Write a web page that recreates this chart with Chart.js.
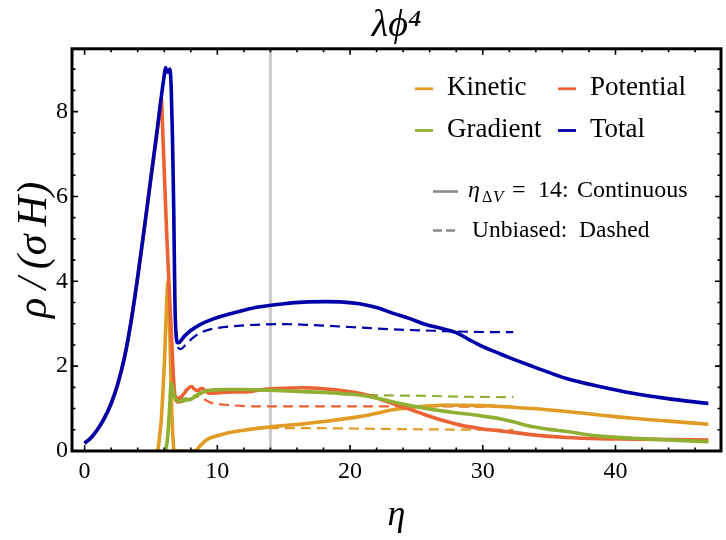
<!DOCTYPE html>
<html>
<head>
<meta charset="utf-8">
<script src="https://cdn.jsdelivr.net/npm/chart.js@4/dist/chart.umd.min.js"></script>
<style>
html,body{margin:0;padding:0;background:#ffffff;}
#wrap{width:726px;height:540px;position:relative;}
</style>
</head>
<body>
<div id="wrap"><canvas id="c" width="726" height="540"></canvas></div>
<script>
// ---------------- data ----------------
const chartTitle = 'λϕ⁴';
const xAxisTitle = 'η';
const yAxisTitle = 'ρ\u2009/\u2009(σ\u2009H)';
const xTickValues = [0, 10, 20, 30, 40];
const yTickValues = [0, 2, 4, 6, 8];
const xMinorStep = 2;
const yMinorStep = 0.5;
const xRange = [-0.95, 47.95];
const yRange = [0, 9.48];
const etaDeltaV = 14;
const seriesNames = ['Kinetic', 'Potential', 'Gradient', 'Total'];
const seriesColors = ['#E09C24', '#EB6235', '#8FB032', '#0000AA'];
const legendNoteSolid = 'Continuous';
const legendNoteDashed = 'Unbiased:  Dashed';

// Total, eta_DeltaV = 14 (continuous)
const totalEta = [0, 0.5, 1, 1.5, 2, 2.5, 3, 3.5, 4, 4.5, 5, 5.5, 5.8, 6.0, 6.1, 6.2, 6.3, 6.42, 6.52, 6.62, 6.72, 6.8, 6.9, 7.03, 7.15, 7.5, 8.0, 8.7, 9.5, 10.7, 12, 13.2, 15, 16.5, 18.2, 19.5, 20.7, 22, 23.2, 24.5, 25.7, 27, 28, 29, 30, 31, 32, 33.8, 36.3, 38.8, 41.3, 43.8, 47];
const totalRho = [0.18, 0.32, 0.52, 0.78, 1.12, 1.58, 2.2, 3.05, 4.1, 5.25, 6.45, 7.65, 8.4, 8.85, 9.04, 8.94, 8.93, 9.0, 8.6, 7.4, 5.6, 3.6, 2.7, 2.55, 2.56, 2.7, 2.84, 2.98, 3.09, 3.21, 3.32, 3.4, 3.47, 3.51, 3.52, 3.51, 3.47, 3.38, 3.25, 3.12, 2.98, 2.88, 2.79, 2.62, 2.46, 2.33, 2.2, 1.99, 1.71, 1.52, 1.36, 1.24, 1.12];

// Potential (continuous)
const potentialEta = [0, 0.5, 1, 1.5, 2, 2.5, 3, 3.5, 4, 4.5, 5, 5.5, 5.65, 5.78, 5.9, 6.0, 6.1, 6.2, 6.35, 6.5, 6.65, 6.78, 6.9, 7.1, 7.4, 7.75, 8.04, 8.3, 8.54, 8.79, 9.1, 9.42, 10, 11, 12.4, 13.2, 14.5, 16.5, 18.2, 19.5, 20.7, 22, 23.2, 24.5, 25.7, 27, 28.3, 30, 32, 33.8, 36.3, 38.8, 41.3, 44, 47];
const potentialRho = [0.18, 0.32, 0.52, 0.78, 1.12, 1.58, 2.2, 3.05, 4.1, 5.25, 6.45, 7.6, 8.0, 8.32, 7.4, 6.6, 5.8, 5.0, 4.0, 3.0, 2.0, 1.36, 1.26, 1.24, 1.32, 1.46, 1.52, 1.45, 1.42, 1.48, 1.42, 1.36, 1.37, 1.39, 1.40, 1.44, 1.47, 1.49, 1.46, 1.42, 1.36, 1.25, 1.12, 0.98, 0.85, 0.72, 0.61, 0.52, 0.45, 0.38, 0.32, 0.29, 0.28, 0.27, 0.26];

// Kinetic (continuous)
const kineticEta = [5.4, 5.53, 5.65, 5.78, 5.9, 6.0, 6.1, 6.2, 6.28, 6.36, 6.45, 6.55, 6.65, 6.75, 8.3, 8.7, 9.17, 10, 10.7, 12, 13.2, 15, 16.5, 18.2, 20.7, 22, 23.2, 24.5, 25.7, 27, 28.3, 30, 31.3, 33.8, 36.3, 38.8, 41.3, 43.8, 47];
const kineticRho = [0, 0.05, 0.35, 0.75, 1.4, 2.0, 2.8, 3.6, 4.0, 3.5, 2.4, 1.1, 0.35, 0, 0, 0.12, 0.26, 0.36, 0.42, 0.49, 0.54, 0.6, 0.64, 0.7, 0.81, 0.89, 0.97, 1.02, 1.06, 1.08, 1.08, 1.07, 1.05, 1.0, 0.93, 0.85, 0.77, 0.71, 0.63];

// Gradient (continuous)
const gradientEta = [6.1, 6.25, 6.4, 6.52, 6.62, 6.75, 6.9, 7.3, 7.66, 8.0, 8.54, 9.17, 9.8, 10.5, 12, 13.2, 15, 16.5, 18.2, 19.5, 20.7, 22, 23.2, 24.5, 25.7, 27, 28.3, 29.8, 31.3, 32.5, 33.8, 35, 36.3, 38.8, 41.3, 44, 47];
const gradientRho = [0, 0.3, 1.0, 1.6, 1.5, 1.3, 1.2, 1.18, 1.2, 1.22, 1.32, 1.42, 1.44, 1.45, 1.45, 1.44, 1.42, 1.40, 1.38, 1.35, 1.32, 1.25, 1.16, 1.07, 1.0, 0.94, 0.89, 0.83, 0.76, 0.67, 0.57, 0.51, 0.46, 0.35, 0.30, 0.26, 0.22];

// Unbiased (dashed)
const totalUnbEta = [6.85, 6.95, 7.1, 7.25, 7.6, 8.2, 8.7, 9.4, 10.5, 12, 13.2, 15, 17, 20.7, 23, 25.7, 29, 32.3];
const totalUnbRho = [3.2, 2.6, 2.42, 2.4, 2.5, 2.68, 2.78, 2.86, 2.92, 2.96, 2.98, 2.99, 2.97, 2.91, 2.87, 2.84, 2.81, 2.80];
const potentialUnbEta = [6.78, 7.0, 7.3, 7.7, 8.2, 8.6, 9.0, 9.5, 10, 11, 12, 13.2, 16, 20, 26, 32.3];
const potentialUnbRho = [1.2, 1.14, 1.15, 1.2, 1.26, 1.28, 1.22, 1.14, 1.11, 1.08, 1.06, 1.05, 1.05, 1.05, 1.05, 1.04];
const gradientUnbEta = [7.0, 7.6, 8.2, 8.8, 9.4, 10, 13.2, 16, 18.2, 20.7, 23, 25.7, 28.3, 32.3];
const gradientUnbRho = [1.2, 1.24, 1.3, 1.38, 1.42, 1.44, 1.44, 1.41, 1.37, 1.33, 1.31, 1.30, 1.28, 1.27];
const kineticUnbEta = [8.3, 8.7, 9.17, 10, 10.7, 12, 13.2, 16, 20, 25.7, 32.3];
const kineticUnbRho = [0, 0.12, 0.26, 0.36, 0.42, 0.49, 0.53, 0.54, 0.53, 0.51, 0.50];

// ---------------- helpers ----------------
const SERIF = '"Liberation Serif", "DejaVu Serif", serif';
function pts(xs, ys) { return xs.map((x, i) => ({x: x, y: ys[i]})); }
function lineDs(label, xs, ys, color, dashed, order) {
  return {
    label: label,
    data: pts(xs, ys),
    showLine: true,
    borderColor: color,
    backgroundColor: color,
    borderWidth: dashed ? 2.2 : 3.6,
    borderDash: dashed ? [10, 6] : [],
    pointRadius: 0,
    pointHoverRadius: 0,
    fill: false,
    cubicInterpolationMode: 'monotone',
    order: order
  };
}

const datasets = [
  lineDs(seriesNames[3], totalEta, totalRho, seriesColors[3], false, 0),
  lineDs(seriesNames[2], gradientEta, gradientRho, seriesColors[2], false, 1),
  lineDs(seriesNames[1], potentialEta, potentialRho, seriesColors[1], false, 2),
  lineDs(seriesNames[0], kineticEta, kineticRho, seriesColors[0], false, 3),
  lineDs(seriesNames[3] + ' (unbiased)', totalUnbEta, totalUnbRho, seriesColors[3], true, 4),
  lineDs(seriesNames[2] + ' (unbiased)', gradientUnbEta, gradientUnbRho, seriesColors[2], true, 5),
  lineDs(seriesNames[1] + ' (unbiased)', potentialUnbEta, potentialUnbRho, seriesColors[1], true, 6),
  lineDs(seriesNames[0] + ' (unbiased)', kineticUnbEta, kineticUnbRho, seriesColors[0], true, 7)
];

// vertical reference line at eta_DeltaV
const refLinePlugin = {
  id: 'refLine',
  beforeDatasetsDraw(chart) {
    const ctx = chart.ctx, a = chart.chartArea, xs = chart.scales.x;
    const px = xs.getPixelForValue(etaDeltaV);
    ctx.save();
    ctx.strokeStyle = '#CACACA';
    ctx.lineWidth = 3;
    ctx.beginPath();
    ctx.moveTo(px, a.top);
    ctx.lineTo(px, a.bottom);
    ctx.stroke();
    ctx.restore();
  }
};

// frame with inward ticks (Mathematica-style)
const framePlugin = {
  id: 'frame',
  afterDatasetsDraw(chart) {
    const ctx = chart.ctx, a = chart.chartArea, xs = chart.scales.x, ys = chart.scales.y;
    ctx.save();
    ctx.strokeStyle = '#000';
    ctx.lineWidth = 1.6;
    ctx.beginPath();
    const isMajor = (v, arr) => arr.some(t => Math.abs(t - v) < 1e-6);
    for (let v = Math.ceil(xRange[0] / xMinorStep) * xMinorStep; v <= xRange[1]; v += xMinorStep) {
      const px = xs.getPixelForValue(v);
      const len = isMajor(v, xTickValues) ? 6 : 3.5;
      ctx.moveTo(px, a.bottom); ctx.lineTo(px, a.bottom - len);
      ctx.moveTo(px, a.top); ctx.lineTo(px, a.top + len);
    }
    for (let v = Math.ceil(yRange[0] / yMinorStep) * yMinorStep; v <= yRange[1]; v += yMinorStep) {
      const py = ys.getPixelForValue(v);
      const len = isMajor(v, yTickValues) ? 6 : 3.5;
      ctx.moveTo(a.left, py); ctx.lineTo(a.left + len, py);
      ctx.moveTo(a.right, py); ctx.lineTo(a.right - len, py);
    }
    ctx.stroke();
    ctx.lineWidth = 3;
    ctx.strokeRect(a.left, a.top, a.right - a.left, a.bottom - a.top);
    ctx.restore();
  }
};

// legend drawn inside the plot
const legendPlugin = {
  id: 'innerLegend',
  afterDraw(chart) {
    const ctx = chart.ctx, a = chart.chartArea;
    const ox = a.left, oy = a.top;
    ctx.save();
    ctx.textBaseline = 'alphabetic';
    ctx.textAlign = 'left';
    const entries = [
      {i: 0, lx: 343, ly: 40, tx: 375, ty: 46},
      {i: 1, lx: 486, ly: 40, tx: 518, ty: 46},
      {i: 2, lx: 343, ly: 81.7, tx: 375, ty: 88},
      {i: 3, lx: 486, ly: 81.7, tx: 518, ty: 88}
    ];
    entries.forEach(e => {
      ctx.strokeStyle = seriesColors[e.i];
      ctx.lineWidth = 2.8;
      ctx.beginPath();
      ctx.moveTo(ox + e.lx, oy + e.ly);
      ctx.lineTo(ox + e.lx + 18, oy + e.ly);
      ctx.stroke();
      ctx.fillStyle = '#000';
      ctx.font = '27px ' + SERIF;
      ctx.fillText(seriesNames[e.i], ox + e.tx, oy + e.ty);
    });
    // line-style notes
    ctx.strokeStyle = '#8A8A8A';
    ctx.lineWidth = 2.6;
    ctx.beginPath();
    ctx.moveTo(ox + 361, oy + 142.7); ctx.lineTo(ox + 386, oy + 142.7);
    ctx.stroke();
    ctx.beginPath();
    ctx.moveTo(ox + 361, oy + 181.7); ctx.lineTo(ox + 370, oy + 181.7);
    ctx.moveTo(ox + 374, oy + 181.7); ctx.lineTo(ox + 383, oy + 181.7);
    ctx.stroke();
    ctx.fillStyle = '#000';
    const y = oy + 148;
    ctx.font = 'italic 24px ' + SERIF;
    ctx.fillText('η', ox + 396, y);
    ctx.font = '16px ' + SERIF;
    ctx.fillText('Δ', ox + 410, y + 5);
    ctx.font = 'italic 17px ' + SERIF;
    ctx.fillText('V', ox + 421, y + 5);
    ctx.font = '24px ' + SERIF;
    ctx.fillText('=', ox + 440, y);
    ctx.fillText(etaDeltaV + ':', ox + 466, y);
    ctx.fillText(legendNoteSolid, ox + 505, y);
    ctx.font = '23.5px ' + SERIF;
    ctx.fillText(legendNoteDashed, ox + 400, oy + 188);
    ctx.restore();
  }
};

new Chart(document.getElementById('c'), {
  type: 'scatter',
  data: {datasets: datasets},
  options: {
    responsive: false,
    animation: false,
    events: [],
    layout: {padding: {left: 0, right: 5, top: 0, bottom: 0}},
    plugins: {
      legend: {display: false},
      tooltip: {enabled: false},
      title: {
        display: true,
        text: chartTitle,
        fullSize: false,
        color: '#000',
        font: {family: SERIF, size: 38, style: 'italic', weight: 'normal', lineHeight: 1.1},
        padding: {top: 5, bottom: 2}
      }
    },
    scales: {
      x: {
        type: 'linear',
        min: xRange[0],
        max: xRange[1],
        afterBuildTicks: s => { s.ticks = xTickValues.map(v => ({value: v})); },
        afterFit: s => { s.height = 89; },
        grid: {display: false, drawTicks: false},
        border: {display: false},
        ticks: {color: '#000', padding: 6, maxRotation: 0, font: {family: SERIF, size: 24}},
        title: {display: true, text: xAxisTitle, color: '#000', font: {family: SERIF, size: 36, style: 'italic', lineHeight: 1.2}, padding: {top: 0, bottom: 3}}
      },
      y: {
        type: 'linear',
        min: yRange[0],
        max: yRange[1],
        afterBuildTicks: s => { s.ticks = yTickValues.map(v => ({value: v})); },
        afterFit: s => { s.width = 72; },
        grid: {display: false, drawTicks: false},
        border: {display: false},
        ticks: {color: '#000', padding: 4, font: {family: SERIF, size: 24}},
        title: {display: true, text: yAxisTitle, color: '#000', font: {family: SERIF, size: 42, style: 'italic', lineHeight: 1.2}, padding: {top: 10, bottom: 0}}
      }
    }
  },
  plugins: [refLinePlugin, framePlugin, legendPlugin]
});
</script>
</body>
</html>
